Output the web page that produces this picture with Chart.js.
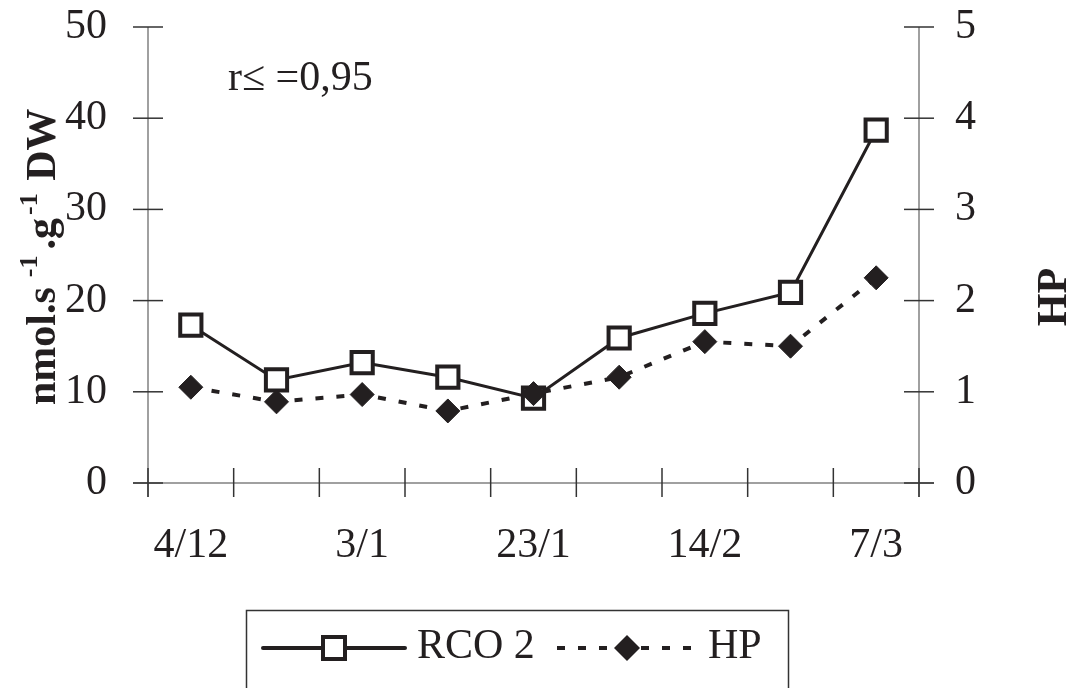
<!DOCTYPE html>
<html>
<head>
<meta charset="utf-8">
<script src="https://cdn.jsdelivr.net/npm/chart.js@4"></script>
<style>
  html, body { margin: 0; padding: 0; background: #fff; }
  #wrap { width: 1070px; height: 688px; position: relative; }
</style>
</head>
<body>
<div id="wrap"><canvas id="c"></canvas></div>
<script>
// sampling dates (only every other one is labelled on the axis)
const categories = ['4/12', '', '3/1', '', '23/1', '', '14/2', '', '7/3'];
// RCO2, left axis (nmol.s-1.g-1 DW)
const rco2 = [17.3, 11.3, 13.2, 11.6, 9.3, 15.9, 18.6, 20.9, 38.7];
// HP, right axis
const hp = [1.05, 0.89, 0.97, 0.79, 0.98, 1.16, 1.55, 1.50, 2.25];
const leftMax = 50, leftStep = 10;
const rightMax = 5, rightStep = 1;

const SERIF = '"Liberation Serif", "Times New Roman", serif';
const INK = '#231f20';

function line(ctx, x1, y1, x2, y2) {
  ctx.beginPath();
  ctx.moveTo(x1, y1);
  ctx.lineTo(x2, y2);
  ctx.stroke();
}

// text pieces written bottom-to-top, superscripts pushed to the left
function rotatedRuns(ctx, x, y, runs) {
  ctx.save();
  ctx.translate(x, y);
  ctx.rotate(-Math.PI / 2);
  ctx.textBaseline = 'alphabetic';
  ctx.textAlign = 'left';
  let cx = 0;
  runs.forEach(r => {
    ctx.font = r.font;
    ctx.fillText(r.text, cx, -(r.rise || 0));
    cx += ctx.measureText(r.text).width + (r.gap || 0);
  });
  ctx.restore();
}

// keep the plot box where the reference has it
function fixBox(size, key) {
  return s => {
    s[key] = size;
    s.paddingTop = 0; s.paddingBottom = 0;
    s.paddingLeft = 0; s.paddingRight = 0;
  };
}

const frame = {
  id: 'frame',
  beforeDatasetsDraw(chart) {
    const { ctx } = chart;
    const { left, right, top, bottom } = chart.chartArea;
    const xs = chart.scales.x, yl = chart.scales.y, yr = chart.scales.y1;
    ctx.save();
    ctx.lineWidth = 1.5;
    ctx.strokeStyle = '#808080';
    line(ctx, left, top, left, bottom + 14);
    line(ctx, right, top, right, bottom + 14);
    line(ctx, left - 15, bottom, right + 15, bottom);
    ctx.strokeStyle = '#333';
    yl.ticks.forEach(t => {
      const py = yl.getPixelForValue(t.value);
      line(ctx, left - 15, py, left + 15, py);
    });
    yr.ticks.forEach(t => {
      const py = yr.getPixelForValue(t.value);
      line(ctx, right - 15, py, right + 15, py);
    });
    for (let i = 0; i <= categories.length; i++) {
      const px = xs.getPixelForValue(i - 0.5);
      line(ctx, px, bottom - 15, px, bottom + 14);
    }
    ctx.restore();
  },
  afterDraw(chart) {
    const { ctx } = chart;
    ctx.save();
    ctx.fillStyle = INK;

    // axis titles
    const big = 'bold 42px ' + SERIF, sup = 'bold 26px ' + SERIF;
    rotatedRuns(ctx, 55, 405, [
      { text: 'nmol.s', font: big, gap: 10 },
      { text: '-1', font: sup, rise: 18, gap: 6 },
      { text: '.g', font: big, gap: 3 },
      { text: '-1', font: sup, rise: 18, gap: 2 },
      { text: ' DW', font: big }
    ]);
    ctx.save();
    ctx.translate(1066, 297);
    ctx.rotate(-Math.PI / 2);
    ctx.font = big;
    ctx.textAlign = 'center';
    ctx.fillText('HP', 0, 0);
    ctx.restore();

    // correlation note
    ctx.font = '42px ' + SERIF;
    ctx.textAlign = 'left';
    ctx.fillText('r\u2264 =0,95', 228, 90);

    // legend
    ctx.strokeStyle = '#333';
    ctx.lineWidth = 1.5;
    ctx.strokeRect(246.5, 610.5, 542, 100);

    const ly = 648;
    ctx.strokeStyle = INK;
    ctx.lineWidth = 4;
    ctx.lineCap = 'round';
    line(ctx, 263, ly, 405, ly);
    ctx.lineCap = 'butt';
    ctx.fillStyle = '#fff';
    ctx.fillRect(323, ly - 11, 22, 22);
    ctx.strokeRect(323, ly - 11, 22, 22);

    ctx.setLineDash([8, 13]);
    line(ctx, 557, ly, 692, ly);
    ctx.setLineDash([]);
    ctx.fillStyle = INK;
    ctx.beginPath();
    ctx.moveTo(627, ly - 13);
    ctx.lineTo(640, ly);
    ctx.lineTo(627, ly + 13);
    ctx.lineTo(614, ly);
    ctx.closePath();
    ctx.fill();

    ctx.font = '42px ' + SERIF;
    ctx.fillText('RCO 2', 417, 658);
    ctx.fillText('HP', 708, 658);
    ctx.restore();
  }
};

const tickFont = { family: SERIF, size: 42 };

new Chart(document.getElementById('c'), {
  type: 'line',
  data: {
    labels: categories,
    datasets: [
      {
        label: 'RCO 2',
        data: rco2,
        yAxisID: 'y',
        order: 2,
        borderColor: INK,
        borderWidth: 3,
        pointStyle: 'rect',
        pointRadius: 15,
        pointBorderWidth: 4,
        pointBackgroundColor: '#fff',
        pointBorderColor: INK,
        tension: 0
      },
      {
        label: 'HP',
        data: hp,
        yAxisID: 'y1',
        order: 1,
        borderColor: INK,
        borderWidth: 4,
        borderDash: [8, 13],
        pointStyle: 'rectRot',
        pointRadius: 12,
        pointBorderWidth: 1,
        pointBackgroundColor: INK,
        pointBorderColor: INK,
        tension: 0
      }
    ]
  },
  options: {
    responsive: true,
    maintainAspectRatio: false,
    animation: false,
    layout: { padding: { top: 27, left: 0, right: 0, bottom: 0 } },
    plugins: { legend: { display: false }, tooltip: { enabled: false } },
    scales: {
      x: {
        type: 'category',
        offset: true,
        grid: { display: false, drawTicks: false },
        border: { display: false },
        ticks: { autoSkip: false, maxRotation: 0, padding: 38, color: INK, font: tickFont },
        afterFit: fixBox(205, 'height')
      },
      y: {
        position: 'left',
        min: 0,
        max: leftMax,
        grid: { display: false, drawTicks: false },
        border: { display: false },
        ticks: { stepSize: leftStep, padding: 41, color: INK, font: tickFont },
        afterFit: fixBox(148, 'width')
      },
      y1: {
        position: 'right',
        min: 0,
        max: rightMax,
        grid: { display: false, drawTicks: false },
        border: { display: false },
        ticks: { stepSize: rightStep, padding: 36, color: INK, font: tickFont },
        afterFit: fixBox(151, 'width')
      }
    }
  },
  plugins: [frame]
});
</script>
</body>
</html>
